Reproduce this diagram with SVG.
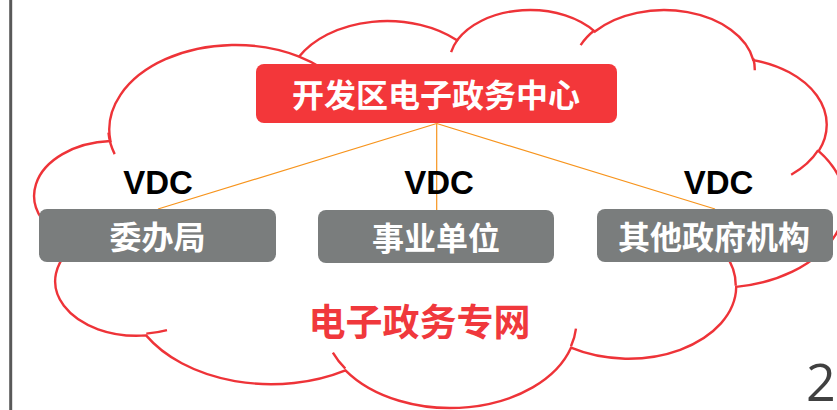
<svg xmlns="http://www.w3.org/2000/svg" width="837" height="410" viewBox="0 0 837 410">
  <defs>
    <style>
      .cloud { fill: none; stroke: #EE3338; stroke-width: 2.4; vector-effect: non-scaling-stroke; stroke-linecap: butt; }
      .conn { stroke: #F7941D; stroke-width: 1.2; fill: none; }
      .center-box { fill: #F3373A; }
      .gray-box { fill: #7A7D7D; }
      .cjk { font-family: "Noto Sans CJK SC", "Noto Sans", sans-serif; font-weight: bold; text-anchor: middle; }
      .node-text { fill: #FFFFFF; font-size: 32px; }
      .vdc { font-family: "Liberation Sans", Arial, sans-serif; font-weight: bold; font-size: 33px; fill: #000000; text-anchor: middle; }
      .net { fill: #F0383C; font-size: 37px; }
    </style>
  </defs>
  <rect x="0" y="0" width="837" height="410" fill="#FFFFFF"/>
  <line x1="10.7" y1="0" x2="10.7" y2="410" stroke="#595959" stroke-width="3"/>

  <g id="cloud" transform="translate(37.6 8.7) scale(0.018676 0.009209)">
    <path class="cloud" d="M 3900 14370
      A 6753 9190 0 0 1 14006 5203
      A 5333 7267 0 0 1 22459 3434
      A 4365 5945 0 0 1 29837 2483
      A 4857 6595 0 0 1 38322 5578
      A 5333 7273 0 0 1 41822 15462
      A 6775 9220 0 0 1 37407 30204
      A 5785 7867 0 0 1 28560 36815
      A 6752 9215 0 0 1 16484 39267
      A 7720 10543 0 0 1 5809 35474
      A 4360 5918 0 0 1 2117 25552
      A 4345 5945 0 0 1 3900 14370 Z"/>
    <path class="cloud" d="M 4693 26177 A 4345 5945 0 0 1 2159 25380
      M 6928 34899 A 4360 5918 0 0 1 5820 35280
      M 16478 39090 A 6752 9215 0 0 1 15810 37348
      M 28827 34751 A 6752 9215 0 0 1 28560 36660
      M 34129 22954 A 5785 7867 0 0 1 37381 30090
      M 41798 15354 A 5333 7273 0 0 1 40349 18031
      M 38324 5426 A 4857 6595 0 0 1 38400 6690
      M 29078 3952 A 4857 6595 0 0 1 29819 2341
      M 22141 4720 A 4365 5945 0 0 1 22500 3330
      M 14000 5192 A 6753 9190 0 0 1 15299 6540
      M 4127 15789 A 6753 9190 0 0 1 3795 13453"/>
  </g>

  <g id="connectors">
    <line class="conn" x1="436.7" y1="123.5" x2="158" y2="209"/>
    <line class="conn" x1="436.7" y1="123.5" x2="436.7" y2="210"/>
    <line class="conn" x1="436.7" y1="123.5" x2="715" y2="209"/>
  </g>

  <g id="node-center">
    <rect class="center-box" x="256" y="64" width="361" height="59" rx="8" ry="8"/>
    <text class="cjk node-text" x="436" y="107">开发区电子政务中心</text>
  </g>

  <g id="node-weibanju">
    <rect class="gray-box" x="39" y="209" width="237" height="53" rx="8" ry="8"/>
    <text class="cjk node-text" x="157.5" y="249">委办局</text>
  </g>

  <g id="node-shiyedanwei">
    <rect class="gray-box" x="318" y="210" width="236" height="53" rx="8" ry="8"/>
    <text class="cjk node-text" x="436" y="249.5">事业单位</text>
  </g>

  <g id="node-qita">
    <rect class="gray-box" x="597" y="209" width="236" height="53" rx="8" ry="8"/>
    <text class="cjk node-text" x="714" y="249">其他政府机构</text>
  </g>

  <g id="labels">
    <text class="vdc" x="158" y="194">VDC</text>
    <text class="vdc" x="439" y="194">VDC</text>
    <text class="vdc" x="718.5" y="194">VDC</text>
    <text class="cjk net" x="419.5" y="336">电子政务专网</text>
    <text x="806" y="400.5" font-family="Open Sans, sans-serif" font-size="52" fill="#404040">2</text>
  </g>
</svg>
